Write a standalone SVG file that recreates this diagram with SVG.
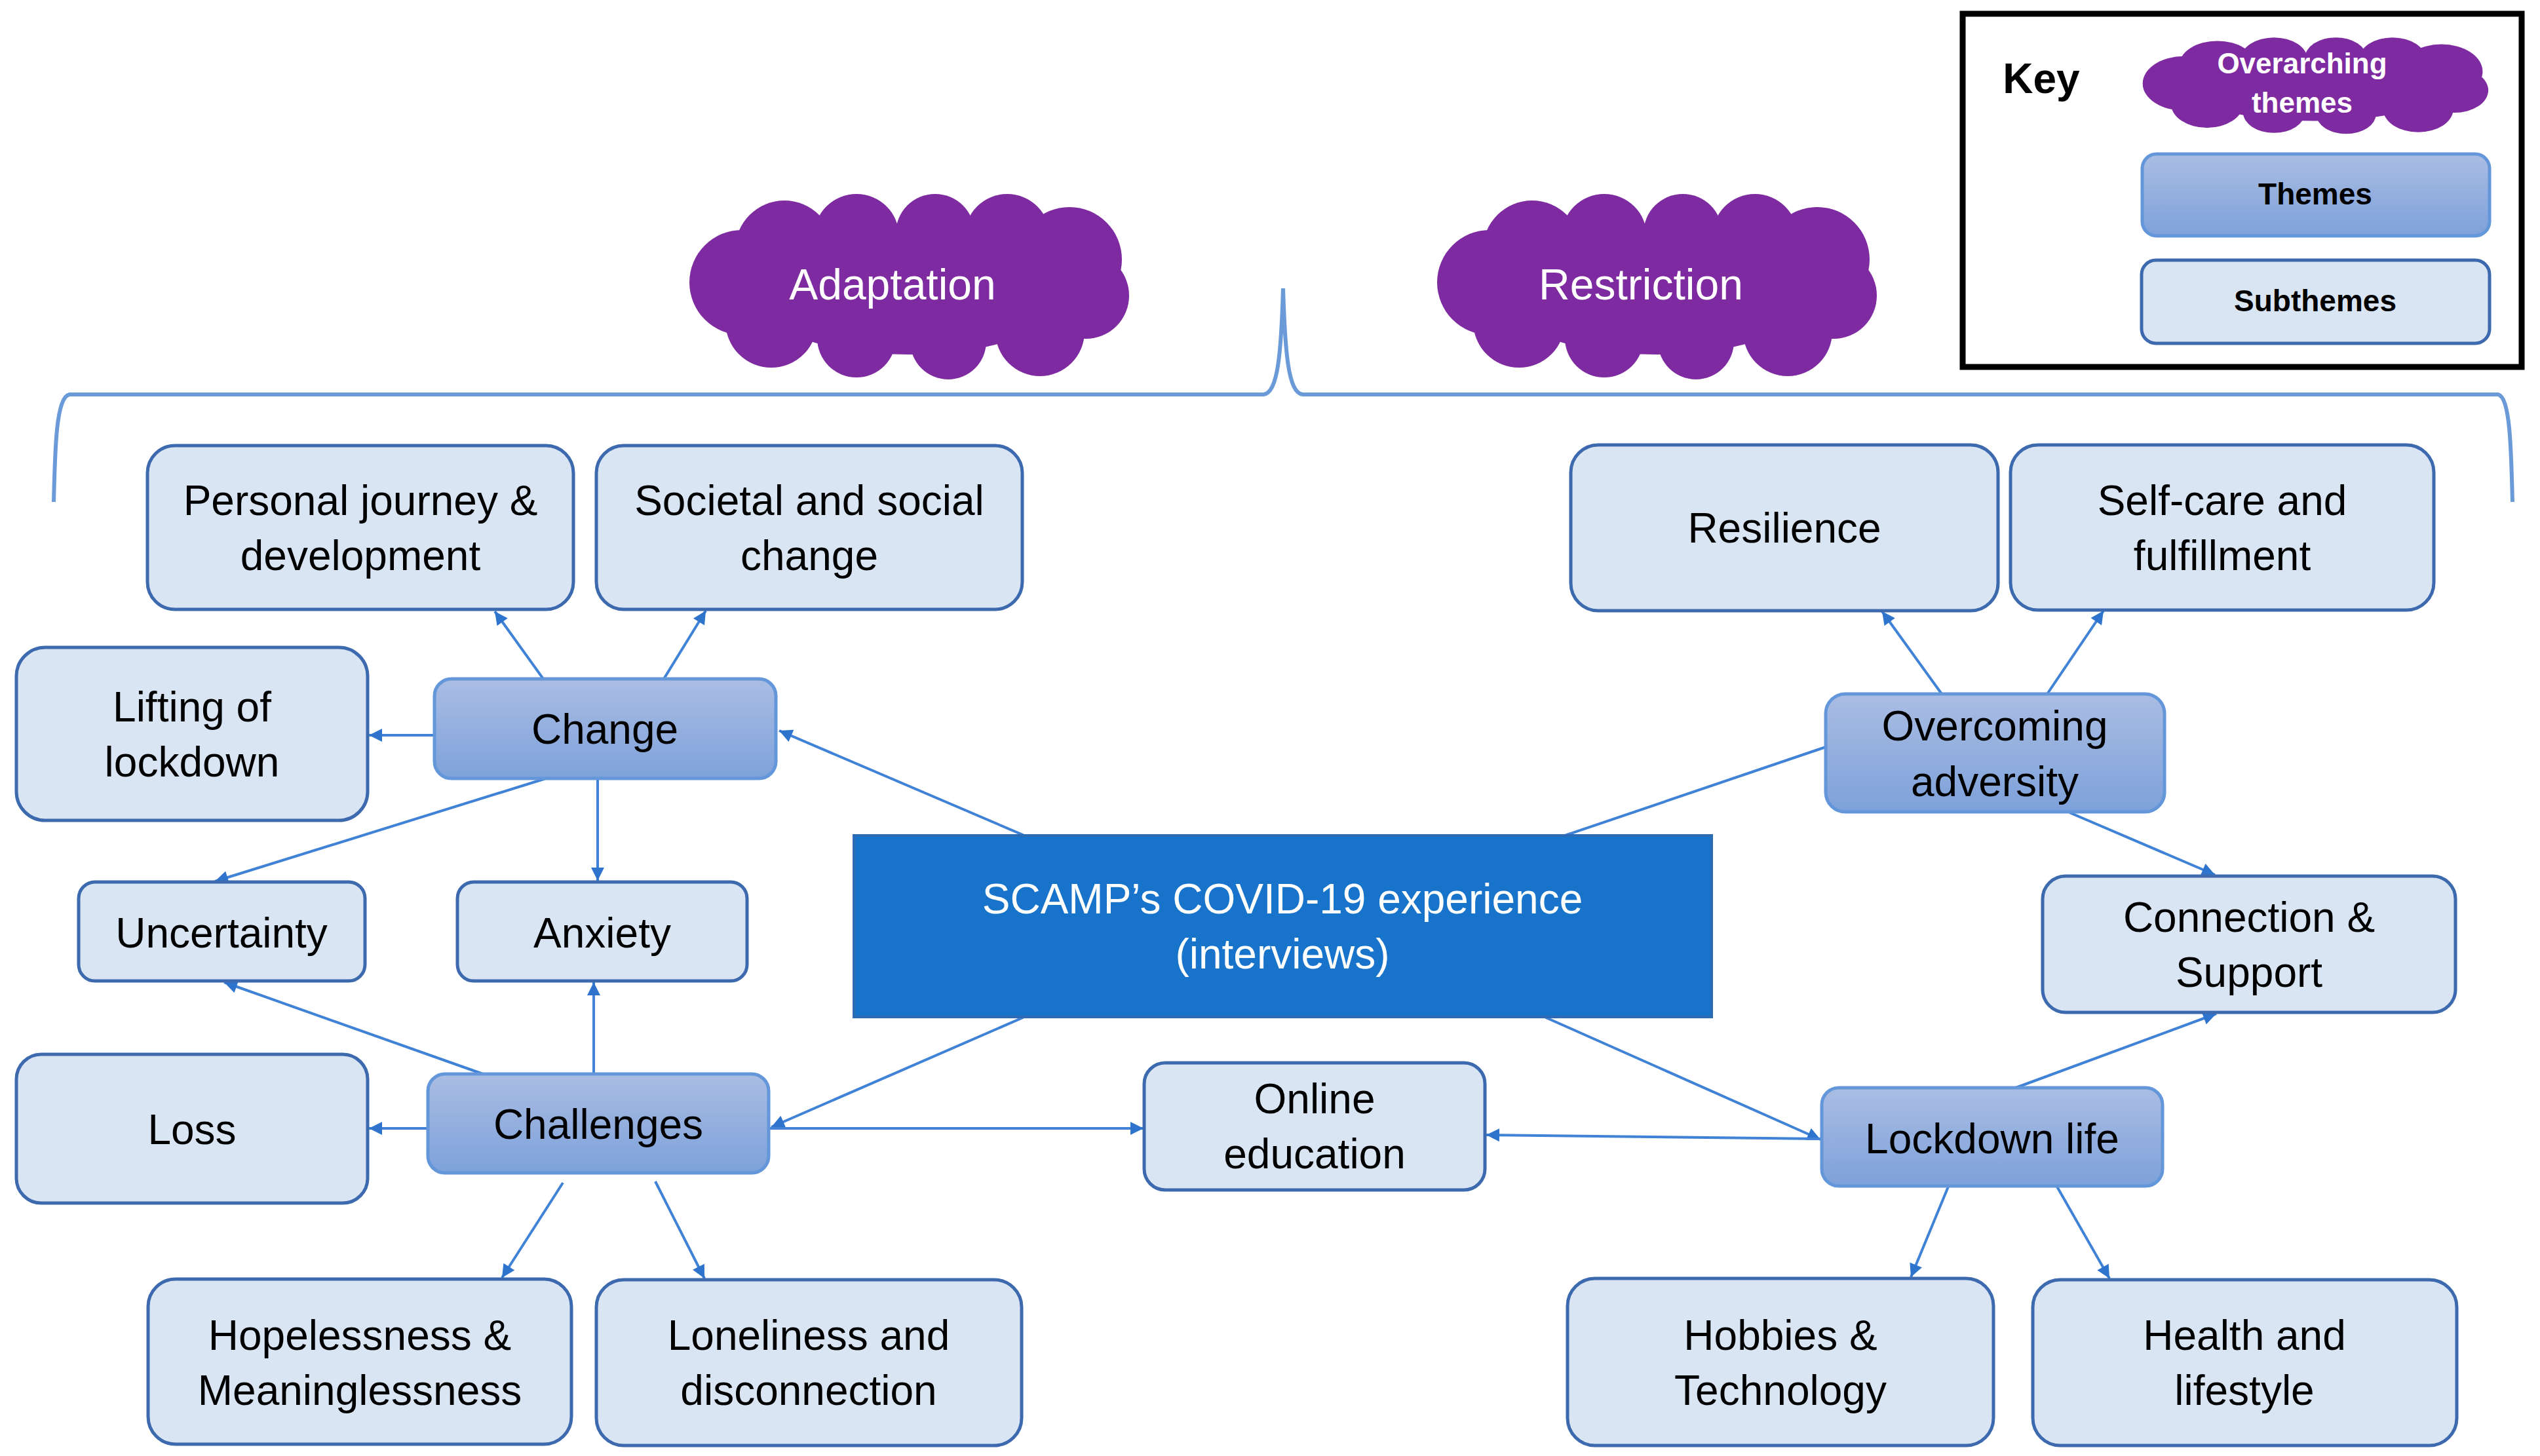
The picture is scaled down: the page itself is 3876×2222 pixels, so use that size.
<svg xmlns="http://www.w3.org/2000/svg" xmlns:xlink="http://www.w3.org/1999/xlink" width="3876" height="2222" viewBox="0 0 3876 2222">
<defs>
<style>
.sub{fill:#DAE5F4;stroke:#3D6AAE;stroke-width:5}
.theme{fill:url(#tg);stroke:#6496DA;stroke-width:5}
.central{fill:#1874CB;stroke:#2D6CB4;stroke-width:4}
.t{font-family:"Liberation Sans",Arial,sans-serif;font-size:64px;fill:#000;text-anchor:middle}
.w{fill:#fff}
.ct{font-family:"Liberation Sans",Arial,sans-serif;font-size:66px;fill:#fff;text-anchor:middle}
.kt{font-family:"Liberation Sans",Arial,sans-serif;font-weight:bold;text-anchor:middle}
.con{fill:none;stroke:#3F82D6;stroke-width:4}
.arr{marker-end:url(#ah)}
.brace{fill:none;stroke:#6A9AD8;stroke-width:6}
</style>
<linearGradient id="tg" x1="0" y1="0" x2="0" y2="1">
<stop offset="0" stop-color="#AABDE3"/>
<stop offset="1" stop-color="#7DA1DA"/>
</linearGradient>
<marker id="ah" viewBox="0 0 10 10" refX="10" refY="5" markerUnits="userSpaceOnUse" markerWidth="24" markerHeight="20" orient="auto">
<path d="M0,0 L10,5 L0,10 z" fill="#2E74CC"/>
</marker>
<g id="cloud">
<ellipse cx="0" cy="5" rx="250" ry="100"/>
<circle cx="-255" cy="-5" r="80"/>
<circle cx="-190" cy="-55" r="75"/>
<circle cx="-80" cy="-75" r="65"/>
<circle cx="40" cy="-80" r="60"/>
<circle cx="150" cy="-75" r="65"/>
<circle cx="245" cy="-40" r="80"/>
<circle cx="270" cy="15" r="66"/>
<circle cx="200" cy="70" r="68"/>
<circle cx="60" cy="85" r="58"/>
<circle cx="-80" cy="80" r="60"/>
<circle cx="-210" cy="55" r="70"/>
</g>
</defs>
<rect x="0" y="0" width="3876" height="2222" fill="#fff"/>

<g id="key">
<rect x="2995" y="21" width="853" height="539" fill="#fff" stroke="#000" stroke-width="9"/>
<text class="kt" x="3115" y="142" font-size="64">Key</text>
<use xlink:href="#cloud" href="#cloud" fill="#7E2AA0" transform="translate(3533,130) scale(0.786,0.52)"/>
<text class="kt" x="3513" y="112" font-size="44" fill="#fff">Overarching</text>
<text class="kt" x="3513" y="172" font-size="44" fill="#fff">themes</text>
<rect class="theme" x="3269" y="235" width="530" height="125" rx="22"/>
<text class="kt" x="3533" y="312" font-size="46">Themes</text>
<rect class="sub" x="3268" y="397" width="531" height="127" rx="22"/>
<text class="kt" x="3533" y="475" font-size="46">Subthemes</text>
</g>

<g id="adaptation">
<use xlink:href="#cloud" href="#cloud" fill="#7E2AA0" transform="translate(1387,436)"/>
<text class="ct" x="1362" y="457">Adaptation</text>
</g>
<g id="restriction">
<use xlink:href="#cloud" href="#cloud" fill="#7E2AA0" transform="translate(2528,436)"/>
<text class="ct" x="2504" y="457">Restriction</text>
</g>

<g id="brace">
<path class="brace" d="M82,766 C84,680 86,606 106,602 L1928,602 C1950,600 1955,540 1958,440 C1961,540 1966,600 1988,602 L3812,602 C3830,606 3832,680 3834,766"/>
</g>

<g id="connectors">
<path class="con arr" d="M1563,1275 L1189,1115"/>
<path class="con" d="M2388,1275 L2786,1140"/>
<path class="con arr" d="M1563,1552 L1177,1720"/>
<path class="con arr" d="M2357,1552 L2778,1739"/>
<path class="con arr" d="M1173,1722 L1745,1722"/>
<path class="con arr" d="M2778,1738 L2268,1732"/>
<path class="con arr" d="M829,1036 L755,933"/>
<path class="con arr" d="M1013,1036 L1077,932"/>
<path class="con arr" d="M663,1122 L563,1122"/>
<path class="con arr" d="M833,1188 L328,1345"/>
<path class="con arr" d="M912,1188 L912,1344"/>
<path class="con arr" d="M737,1639 L342,1499"/>
<path class="con arr" d="M906,1639 L906,1499"/>
<path class="con arr" d="M653,1722 L563,1722"/>
<path class="con arr" d="M859,1805 L766,1950"/>
<path class="con arr" d="M1000,1803 L1075,1951"/>
<path class="con arr" d="M2963,1059 L2872,933"/>
<path class="con arr" d="M3124,1059 L3210,932"/>
<path class="con arr" d="M3158,1240 L3380,1335"/>
<path class="con arr" d="M3076,1660 L3382,1547"/>
<path class="con arr" d="M2973,1811 L2916,1949"/>
<path class="con arr" d="M3139,1811 L3219,1951"/>
</g>

<g id="central">
<rect class="central" x="1303" y="1275" width="1309" height="277"/>
<text class="t w" x="1957" y="1394">SCAMP’s COVID-19 experience</text>
<text class="t w" x="1957" y="1478">(interviews)</text>
</g>

<g id="change">
<rect class="theme" x="663" y="1036" width="521" height="152" rx="26"/>
<text class="t" x="923" y="1135">Change</text>
</g>
<g id="overcoming">
<rect class="theme" x="2786" y="1059" width="517" height="180" rx="30"/>
<text class="t" x="3044" y="1130">Overcoming</text>
<text class="t" x="3044" y="1215">adversity</text>
</g>
<g id="challenges">
<rect class="theme" x="653" y="1639" width="520" height="151" rx="26"/>
<text class="t" x="913" y="1738">Challenges</text>
</g>
<g id="lockdown">
<rect class="theme" x="2780" y="1660" width="520" height="150" rx="26"/>
<text class="t" x="3040" y="1760">Lockdown life</text>
</g>

<g id="personal">
<rect class="sub" x="225" y="680" width="650" height="250" rx="42"/>
<text class="t" x="550" y="786">Personal journey &amp;</text>
<text class="t" x="550" y="870">development</text>
</g>
<g id="societal">
<rect class="sub" x="910" y="680" width="650" height="250" rx="42"/>
<text class="t" x="1235" y="786">Societal and social</text>
<text class="t" x="1235" y="870">change</text>
</g>
<g id="resilience">
<rect class="sub" x="2397" y="679" width="652" height="253" rx="42"/>
<text class="t" x="2723" y="828">Resilience</text>
</g>
<g id="selfcare">
<rect class="sub" x="3068" y="679" width="646" height="252" rx="42"/>
<text class="t" x="3391" y="786">Self-care and</text>
<text class="t" x="3391" y="870">fulfillment</text>
</g>
<g id="lifting">
<rect class="sub" x="25" y="988" width="536" height="264" rx="44"/>
<text class="t" x="293" y="1101">Lifting of</text>
<text class="t" x="293" y="1185">lockdown</text>
</g>
<g id="uncertainty">
<rect class="sub" x="120" y="1346" width="437" height="151" rx="25"/>
<text class="t" x="338" y="1446">Uncertainty</text>
</g>
<g id="anxiety">
<rect class="sub" x="698" y="1346" width="442" height="151" rx="25"/>
<text class="t" x="919" y="1446">Anxiety</text>
</g>
<g id="connection">
<rect class="sub" x="3117" y="1337" width="630" height="208" rx="35"/>
<text class="t" x="3432" y="1422">Connection &amp;</text>
<text class="t" x="3432" y="1506">Support</text>
</g>
<g id="loss">
<rect class="sub" x="25" y="1609" width="536" height="227" rx="38"/>
<text class="t" x="293" y="1746">Loss</text>
</g>
<g id="online">
<rect class="sub" x="1746" y="1622" width="520" height="194" rx="32"/>
<text class="t" x="2006" y="1699">Online</text>
<text class="t" x="2006" y="1783">education</text>
</g>
<g id="hopelessness">
<rect class="sub" x="226" y="1952" width="646" height="252" rx="42"/>
<text class="t" x="549" y="2060">Hopelessness &amp;</text>
<text class="t" x="549" y="2144">Meaninglessness</text>
</g>
<g id="loneliness">
<rect class="sub" x="910" y="1953" width="649" height="253" rx="42"/>
<text class="t" x="1234" y="2060">Loneliness and</text>
<text class="t" x="1234" y="2144">disconnection</text>
</g>
<g id="hobbies">
<rect class="sub" x="2392" y="1951" width="650" height="255" rx="42"/>
<text class="t" x="2717" y="2060">Hobbies &amp;</text>
<text class="t" x="2717" y="2144">Technology</text>
</g>
<g id="health">
<rect class="sub" x="3102" y="1953" width="647" height="253" rx="42"/>
<text class="t" x="3425" y="2060">Health and</text>
<text class="t" x="3425" y="2144">lifestyle</text>
</g>
</svg>
